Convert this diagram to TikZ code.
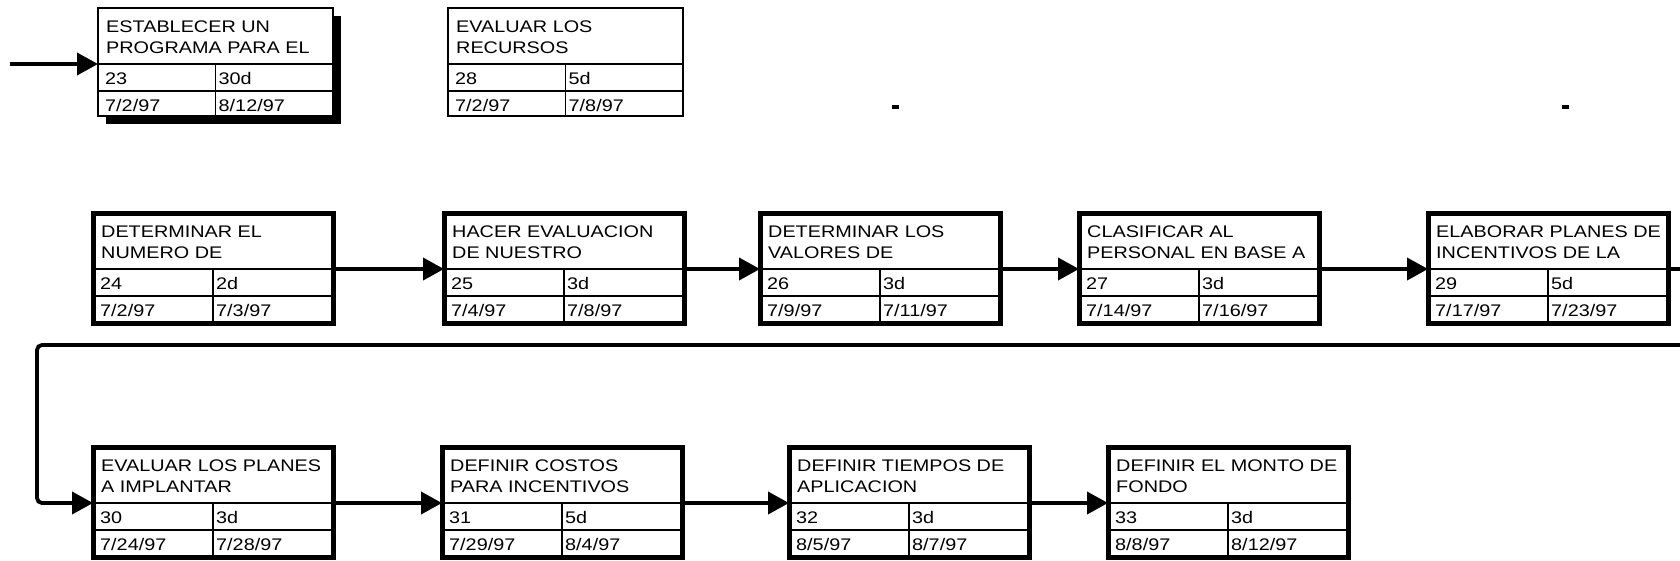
\documentclass[tikz,border=0pt]{standalone}
\usepackage{fontspec}
\setmainfont[FakeStretch=1.18]{Liberation Sans}
\usetikzlibrary{arrows.meta,shadows}
\tikzset{
  thickbox/.style={draw, fill=white, line width=5pt, outer sep=0pt, inner sep=0pt,
    minimum width=240pt, minimum height=110pt},
  thinbox/.style={draw, fill=white, line width=1.8pt, outer sep=0pt, inner sep=0pt,
    minimum width=235pt, minimum height=108pt},
  shadowed/.style={drop shadow={shadow xshift=8pt, shadow yshift=-8pt, fill=black, opacity=1}},
  inner/.style={line width=1.8pt},
  txt/.style={anchor=base west, inner sep=0pt, font=\fontsize{16.8}{19}\selectfont},
  flow/.style={line width=3.8pt, -{Triangle[length=21pt,width=22pt]}},
  link/.style={line width=3.8pt},
}
\newcommand\pertbox[9]{%
  \node[#3, anchor=north west] (#1) at (#2) {};
  \path ([yshift=-56pt]#1.north west) coordinate (#1-in)
        ([yshift=-56pt]#1.north east) coordinate (#1-out);
  \draw[inner] (#1-in) -- (#1-out);
  \draw[inner] ([yshift=-83pt]#1.north west) -- ([yshift=-83pt]#1.north east);
  \draw[inner] ([yshift=-56pt]#1.north) -- (#1.south);
  \node[txt] (#1-t1) at ([xshift=8pt,yshift=-24pt]#1.north west) {#4};
  \node[txt] (#1-t2) at ([xshift=8pt,yshift=-45pt]#1.north west) {#5};
  \node[txt] (#1-id) at ([xshift=7pt,yshift=-76pt]#1.north west) {#6};
  \node[txt] (#1-du) at ([xshift=3pt,yshift=-76pt]#1.north) {#7};
  \node[txt] (#1-st) at ([xshift=7pt,yshift=-103pt]#1.north west) {#8};
  \node[txt] (#1-en) at ([xshift=3pt,yshift=-103pt]#1.north) {#9};
}
\begin{document}
\begin{tikzpicture}[x=1pt,y=-1pt]
\useasboundingbox[fill=white] (0,0) rectangle (1680,560);
% top row
\pertbox{b23}{98,8}{thinbox,shadowed}{ESTABLECER UN}{PROGRAMA PARA EL}{23}{30d}{7/2/97}{8/12/97}
\pertbox{b28}{448,8}{thinbox}{EVALUAR LOS}{RECURSOS}{28}{5d}{7/2/97}{7/8/97}
% middle row
\pertbox{b24}{93,213}{thickbox}{DETERMINAR EL}{NUMERO DE}{24}{2d}{7/2/97}{7/3/97}
\pertbox{b25}{444,213}{thickbox}{HACER EVALUACION}{DE NUESTRO}{25}{3d}{7/4/97}{7/8/97}
\pertbox{b26}{760,213}{thickbox}{DETERMINAR LOS}{VALORES DE}{26}{3d}{7/9/97}{7/11/97}
\pertbox{b27}{1079,213}{thickbox}{CLASIFICAR AL}{PERSONAL EN BASE A}{27}{3d}{7/14/97}{7/16/97}
\pertbox{b29}{1428,213}{thickbox}{ELABORAR PLANES DE}{INCENTIVOS DE LA}{29}{5d}{7/17/97}{7/23/97}
% bottom row
\pertbox{b30}{93,447}{thickbox}{EVALUAR LOS PLANES}{A IMPLANTAR}{30}{3d}{7/24/97}{7/28/97}
\pertbox{b31}{442,447}{thickbox}{DEFINIR COSTOS}{PARA INCENTIVOS}{31}{5d}{7/29/97}{8/4/97}
\pertbox{b32}{789,447}{thickbox}{DEFINIR TIEMPOS DE}{APLICACION}{32}{3d}{8/5/97}{8/7/97}
\pertbox{b33}{1108,447}{thickbox}{DEFINIR EL MONTO DE}{FONDO}{33}{3d}{8/8/97}{8/12/97}
% connectors
\coordinate (start) at (10,64);
\draw[flow] (start) -- (b23-in);
\draw[flow] (b24-out) -- (b25-in);
\draw[flow] (b25-out) -- (b26-in);
\draw[flow] (b26-out) -- (b27-in);
\draw[flow] (b27-out) -- (b29-in);
\coordinate (exit) at (1680,269);
\draw[link] (b29-out) -- (exit);
\coordinate (ret) at (1680,345);
\coordinate (turn) at (37,503);
\draw[flow, rounded corners=5pt] (ret) -| (turn) -- (b30-in);
\draw[flow] (b30-out) -- (b31-in);
\draw[flow] (b31-out) -- (b32-in);
\draw[flow] (b32-out) -- (b33-in);
% specks
\fill (892,105) rectangle (899,109);
\fill (1562,105) rectangle (1569,109);
\end{tikzpicture}
\end{document}
